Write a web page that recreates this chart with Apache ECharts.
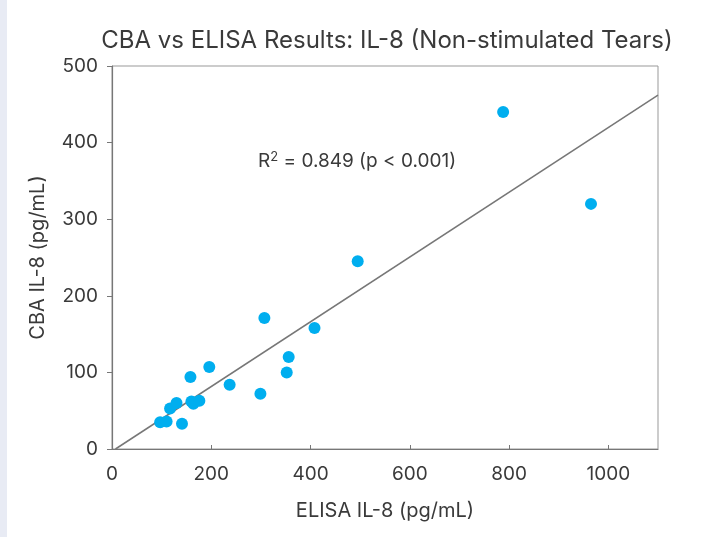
<!DOCTYPE html>
<html>
<head>
<meta charset="utf-8">
<script src="https://cdn.jsdelivr.net/npm/echarts@6/dist/echarts.min.js"></script>
<style>
html,body{margin:0;padding:0;background:#fff;}
#main{width:701px;height:537px;}
</style>
</head>
<body>
<div id="main"></div>
<script>
// ELISA IL-8 (pg/mL) vs CBA IL-8 (pg/mL)
var elisaValues = [97, 110, 117, 130, 141, 158, 160, 164, 176, 196, 237, 299, 307, 352, 356, 408, 495, 788, 965];
var cbaValues   = [35, 36, 53, 60, 33, 94, 62, 59, 63, 107, 84, 72, 171, 100, 120, 158, 245, 440, 320];
var fitLineX = [7, 1100];
var fitLineY = [0, 462];
var xTicks = [0, 200, 400, 600, 800, 1000];
var yTicks = [0, 100, 200, 300, 400, 500];

var points = elisaValues.map(function (x, i) { return [x, cbaValues[i]]; });
var fit = fitLineX.map(function (x, i) { return [x, fitLineY[i]]; });

var font = 'Inter, "Liberation Sans", Arial, sans-serif';
var chart = echarts.init(document.getElementById('main'), null, {renderer: 'canvas'});
chart.setOption({
  animation: false,
  backgroundColor: '#ffffff',
  title: {
    text: 'CBA vs ELISA Results: IL-8 (Non-stimulated Tears)',
    left: 382, top: 24, textAlign: 'center',
    textStyle: {fontFamily: font, fontSize: 24, fontWeight: 'normal', color: '#3a3a3a'}
  },
  graphic: [
    {type: 'rect', left: 0, top: 0, shape: {width: 7, height: 537}, style: {fill: '#e8ebf4'}, silent: true},
    {type: 'text', left: 258, top: 151, style: {
      text: 'R{sup|2} = 0.849 (p < 0.001)',
      fontFamily: font, fontSize: 19, fill: '#3a3a3a',
      rich: {sup: {fontSize: 13, verticalAlign: 'top', fontFamily: font, fill: '#3a3a3a', padding: [0, 0, 8, 0]}}
    }}
  ],
  grid: {left: 112, right: 43, top: 66, bottom: 88, show: true, borderColor: '#999', borderWidth: 1, containLabel: false},
  xAxis: {
    type: 'value', min: 0, max: 1100, interval: 200,
    name: 'ELISA IL-8 (pg/mL)', nameLocation: 'middle', nameGap: 52,
    nameTextStyle: {fontFamily: font, fontSize: 20, color: '#3a3a3a'},
    axisLine: {show: true, lineStyle: {color: '#777', width: 1.2}},
    axisTick: {show: true, inside: true, length: 4, lineStyle: {color: '#777'},
      customValues: xTicks},
    axisLabel: {fontFamily: font, fontSize: 19, color: '#3a3a3a', margin: 16,
      customValues: xTicks, formatter: function (v) { return String(v); }},
    splitLine: {show: false}
  },
  yAxis: {
    type: 'value', min: 0, max: 500, interval: 100,
    name: 'CBA IL-8 (pg/mL)', nameLocation: 'middle', nameGap: 64, nameRotate: 90,
    nameTextStyle: {fontFamily: font, fontSize: 20, color: '#3a3a3a'},
    axisLine: {show: true, lineStyle: {color: '#777', width: 1.2}},
    axisTick: {show: true, inside: false, length: 5, lineStyle: {color: '#777'}},
    axisLabel: {fontFamily: font, fontSize: 19, color: '#3a3a3a', margin: 14,
      customValues: yTicks},
    splitLine: {show: false}
  },
  series: [
    {
      type: 'line', data: fit, symbol: 'none', silent: true,
      lineStyle: {color: '#777', width: 1.5}, z: 1
    },
    {
      type: 'scatter', data: points, symbol: 'circle', symbolSize: 12,
      itemStyle: {color: '#00aeef', opacity: 1}, z: 2
    }
  ]
});
</script>
</body>
</html>
